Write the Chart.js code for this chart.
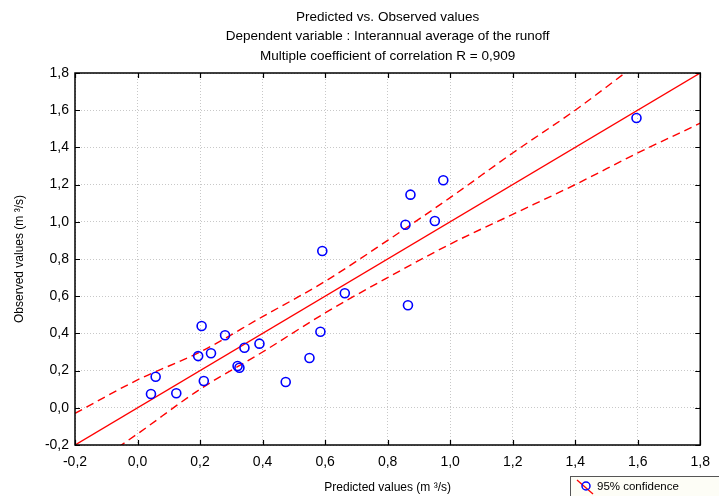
<!DOCTYPE html>
<html lang="en">
<head>
  <meta charset="UTF-8">
  <title>Predicted vs. Observed values</title>
  <style>
    html, body { margin: 0; padding: 0; background: #ffffff; }
    #wrap { width: 719px; height: 496px; }
  </style>
</head>
<body>
  <div id="wrap"><canvas id="chart" width="719" height="496"></canvas></div>

  <script src="https://cdn.jsdelivr.net/npm/chart.js"></script>
  <script>
    // observed vs predicted pairs (m3/s)
    const predicted = [0.043, 0.058, 0.124, 0.194, 0.205, 0.212, 0.235, 0.280, 0.320, 0.326, 0.342, 0.390,
                       0.474, 0.550, 0.585, 0.591, 0.663, 0.857, 0.865, 0.873, 0.951, 0.978, 1.596];
    const observed  = [0.074, 0.167, 0.078, 0.278, 0.440, 0.144, 0.293, 0.390, 0.225, 0.215, 0.323, 0.345,
                       0.139, 0.268, 0.409, 0.843, 0.616, 0.984, 0.551, 1.146, 1.004, 1.223, 1.558];

    // regression line
    const fitX = [-0.2, 1.8];
    const fitY = [-0.2, 1.8];

    // 95% confidence band
    const bandX     = [-0.2, 0.0, 0.2, 0.4, 0.6, 0.8, 1.0, 1.2, 1.4, 1.6, 1.8];
    const bandUpper = [-0.03, 0.15, 0.30, 0.49, 0.68, 0.90, 1.13, 1.37, 1.60, 1.85, 2.08];
    const bandLower = [-0.37, -0.14, 0.10, 0.30, 0.51, 0.70, 0.88, 1.04, 1.20, 1.37, 1.53];

    const titleLines = [
      'Predicted vs. Observed values',
      'Dependent variable : Interannual average of the runoff',
      'Multiple coefficient of correlation R = 0,909'
    ];
    const xTitle = 'Predicted values (m \u00b3/s)';
    const yTitle = 'Observed values (m \u00b3/s)';
    const legendText = '95% confidence';

    const FONT = '"Liberation Sans", Arial, sans-serif';

    function fmt(v) {
      if (Math.abs(v) < 1e-9) v = 0;
      return v.toFixed(1).replace('.', ',');
    }
    function xy(xs, ys) {
      return xs.map((x, i) => ({ x: x, y: ys[i] }));
    }

    // frame, inward ticks, titles and legend
    const decor = {
      id: 'decor',
      afterDraw(chart) {
        const ctx = chart.ctx;
        const a = chart.chartArea;
        const sx = chart.scales.x, sy = chart.scales.y;
        ctx.save();
        ctx.strokeStyle = '#000';
        ctx.lineWidth = 1.5;
        ctx.strokeRect(a.left, a.top, a.right - a.left, a.bottom - a.top);

        ctx.lineWidth = 1.2;
        ctx.beginPath();
        sx.ticks.forEach(t => {
          const px = Math.round(sx.getPixelForValue(t.value)) + 0.5;
          ctx.moveTo(px, a.bottom); ctx.lineTo(px, a.bottom - 5);
          ctx.moveTo(px, a.top); ctx.lineTo(px, a.top + 5);
        });
        sy.ticks.forEach(t => {
          const py = Math.round(sy.getPixelForValue(t.value)) + 0.5;
          ctx.moveTo(a.left, py); ctx.lineTo(a.left + 5, py);
          ctx.moveTo(a.right, py); ctx.lineTo(a.right - 5, py);
        });
        ctx.stroke();

        const cx = (a.left + a.right) / 2;
        ctx.fillStyle = '#000';
        ctx.textAlign = 'center';
        ctx.textBaseline = 'middle';
        ctx.font = '13.5px ' + FONT;
        titleLines.forEach((s, i) => ctx.fillText(s, cx, 17 + i * 19.5));

        ctx.font = '12px ' + FONT;
        ctx.fillText(xTitle, cx, 488);
        ctx.save();
        ctx.translate(20, (a.top + a.bottom) / 2);
        ctx.rotate(-Math.PI / 2);
        ctx.fillText(yTitle, 0, 0);
        ctx.restore();

        // legend box
        ctx.fillStyle = '#fdfdf6';
        ctx.fillRect(570, 476, 160, 30);
        ctx.strokeStyle = '#555';
        ctx.lineWidth = 1;
        ctx.strokeRect(570.5, 476.5, 160, 30);
        ctx.strokeStyle = '#ff0000';
        ctx.lineWidth = 1.3;
        ctx.beginPath(); ctx.moveTo(577, 480); ctx.lineTo(593, 494); ctx.stroke();
        ctx.strokeStyle = '#0000ff';
        ctx.lineWidth = 1.5;
        ctx.beginPath(); ctx.arc(586, 486, 4, 0, Math.PI * 2); ctx.stroke();
        ctx.fillStyle = '#000';
        ctx.textAlign = 'left';
        ctx.font = '11.5px ' + FONT;
        ctx.fillText(legendText, 597, 487);
        ctx.restore();
      }
    };

    const gridOpts = { color: '#c8c8c8', lineWidth: 1, drawTicks: false };

    new Chart(document.getElementById('chart'), {
      type: 'scatter',
      data: {
        datasets: [
          {
            label: 'observed',
            data: xy(predicted, observed),
            showLine: false,
            pointRadius: 4.5,
            pointHoverRadius: 4.5,
            pointBorderWidth: 1.6,
            pointBorderColor: '#0000ff',
            pointBackgroundColor: 'rgba(0,0,0,0)'
          },
          {
            label: 'fit',
            data: xy(fitX, fitY),
            showLine: true,
            borderColor: '#ff0000',
            borderWidth: 1.4,
            pointRadius: 0
          },
          {
            label: 'upper',
            data: xy(bandX, bandUpper),
            showLine: true,
            borderColor: '#ff0000',
            borderWidth: 1.4,
            borderDash: [8, 5],
            cubicInterpolationMode: 'monotone',
            pointRadius: 0
          },
          {
            label: 'lower',
            data: xy(bandX, bandLower),
            showLine: true,
            borderColor: '#ff0000',
            borderWidth: 1.4,
            borderDash: [8, 5],
            cubicInterpolationMode: 'monotone',
            pointRadius: 0
          }
        ]
      },
      options: {
        responsive: false,
        animation: false,
        devicePixelRatio: 1,
        layout: { padding: { top: 73, right: 10, left: 0, bottom: 0 } },
        plugins: { legend: { display: false }, tooltip: { enabled: false } },
        scales: {
          x: {
            type: 'linear',
            min: -0.2, max: 1.8,
            ticks: { stepSize: 0.2, callback: v => fmt(v), color: '#000', font: { family: FONT, size: 14 }, padding: 9 },
            grid: gridOpts,
            border: { display: false, dash: [1, 2] },
            afterFit: s => { s.height = 51; }
          },
          y: {
            type: 'linear',
            min: -0.2, max: 1.8,
            ticks: { stepSize: 0.2, callback: v => fmt(v), color: '#000', font: { family: FONT, size: 14 }, padding: 6 },
            grid: gridOpts,
            border: { display: false, dash: [1, 2] },
            afterFit: s => { s.width = 75; }
          }
        }
      },
      plugins: [decor]
    });
  </script>
</body>
</html>
